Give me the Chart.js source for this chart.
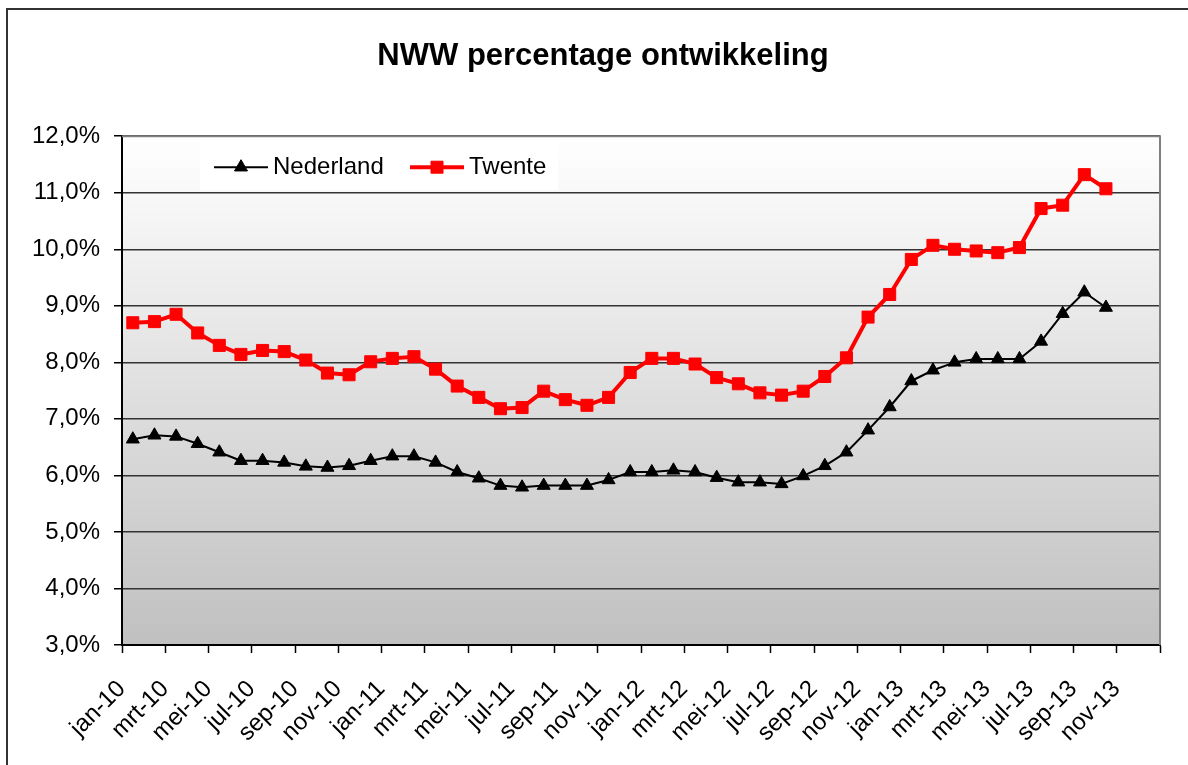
<!DOCTYPE html>
<html>
<head>
<meta charset="utf-8">
<script src="https://cdn.jsdelivr.net/npm/chart.js@4/dist/chart.umd.min.js"></script>
<style>
  html, body { margin: 0; padding: 0; background: #fff; }
  canvas { display: block; }
</style>
</head>
<body>
<canvas id="nwwChart" width="1188" height="765"></canvas>
<script>
const months = ["jan", "feb", "mrt", "apr", "mei", "jun", "jul", "aug", "sep", "okt", "nov", "dec"];
const years = ["10", "11", "12", "13"];
const categories = [];
years.forEach(y => months.forEach(m => categories.push(m + "-" + y)));

// NWW percentages per month, jan-10 .. okt-13
const nederland = [
  6.64, 6.71, 6.69, 6.56, 6.41, 6.26, 6.26, 6.23, 6.16, 6.14, 6.17, 6.26,
  6.34, 6.34, 6.23, 6.06, 5.95, 5.82, 5.79, 5.82, 5.82, 5.82, 5.92, 6.06,
  6.06, 6.09, 6.06, 5.96, 5.88, 5.88, 5.85, 5.99, 6.17, 6.41, 6.80, 7.21,
  7.67, 7.86, 8.00, 8.06, 8.06, 8.06, 8.37, 8.86, 9.24, 8.97
];
const twente = [
  8.70, 8.72, 8.85, 8.52, 8.30, 8.14, 8.21, 8.19, 8.04, 7.81, 7.78, 8.01,
  8.07, 8.10, 7.88, 7.58, 7.38, 7.18, 7.20, 7.49, 7.34, 7.24, 7.38, 7.82,
  8.07, 8.07, 7.97, 7.73, 7.62, 7.46, 7.42, 7.49, 7.75, 8.08, 8.80, 9.20,
  9.82, 10.07, 10.00, 9.97, 9.94, 10.03, 10.72, 10.78, 11.32, 11.07
];

const fontFamily = "'Liberation Sans', Arial, sans-serif";

// page frame, white background and grey gradient in the plot area
const background = {
  id: "background",
  beforeDraw(chart) {
    const ctx = chart.ctx;
    const a = chart.chartArea;
    ctx.save();
    ctx.fillStyle = "#fff";
    ctx.fillRect(0, 0, chart.width, chart.height);
    ctx.strokeStyle = "#333";
    ctx.lineWidth = 2;
    ctx.beginPath();
    ctx.moveTo(7, chart.height);
    ctx.lineTo(7, 9);
    ctx.lineTo(chart.width, 9);
    ctx.stroke();
    const grad = ctx.createLinearGradient(0, a.top, 0, a.bottom);
    grad.addColorStop(0, "#ffffff");
    grad.addColorStop(1, "#c0c0c0");
    ctx.fillStyle = grad;
    ctx.fillRect(a.left, a.top, a.right - a.left, a.bottom - a.top);
    ctx.restore();
  },
  beforeDatasetsDraw(chart) {
    const ctx = chart.ctx;
    const a = chart.chartArea;
    ctx.save();
    ctx.strokeStyle = "#808080";
    ctx.lineWidth = 2;
    ctx.beginPath();
    ctx.moveTo(a.left, a.top);
    ctx.lineTo(a.right, a.top);
    ctx.lineTo(a.right, a.bottom);
    ctx.stroke();
    ctx.restore();
  }
};

// legend box inside the plot area, like the Excel one
const legendBox = {
  id: "legendBox",
  afterDraw(chart) {
    const ctx = chart.ctx;
    const a = chart.chartArea;
    const x0 = a.left + 78;
    const y0 = a.top + 4;
    const cy = y0 + 27;
    ctx.save();
    ctx.fillStyle = "#fff";
    ctx.fillRect(x0, y0, 358, 50);
    const starts = [14, 210];
    chart.data.datasets.forEach((ds, i) => {
      const lx = x0 + starts[i];
      ctx.strokeStyle = ds.borderColor;
      ctx.lineWidth = ds.borderWidth;
      ctx.beginPath();
      ctx.moveTo(lx, cy);
      ctx.lineTo(lx + 54, cy);
      ctx.stroke();
      const mx = lx + 27;
      ctx.fillStyle = ds.pointBackgroundColor;
      ctx.beginPath();
      if (ds.pointStyle === "triangle") {
        const r = ds.pointRadius;
        ctx.moveTo(mx, cy - r);
        ctx.lineTo(mx + r * 0.866, cy + r / 2);
        ctx.lineTo(mx - r * 0.866, cy + r / 2);
        ctx.closePath();
      } else {
        const s = ds.pointRadius * Math.SQRT1_2;
        ctx.rect(mx - s, cy - s, 2 * s, 2 * s);
      }
      ctx.fill();
      ctx.lineWidth = 1;
      ctx.stroke();
      ctx.fillStyle = "#000";
      ctx.font = "24px " + fontFamily;
      ctx.textBaseline = "middle";
      ctx.fillText(ds.label, lx + 59, cy);
    });
    ctx.restore();
  }
};

const chart = new Chart(document.getElementById("nwwChart"), {
  type: "line",
  data: {
    labels: categories,
    datasets: [
      {
        label: "Nederland",
        data: nederland,
        borderColor: "#000",
        borderWidth: 2,
        pointStyle: "triangle",
        pointRadius: 7.5,
        pointBackgroundColor: "#000",
        pointBorderColor: "#000",
        pointBorderWidth: 1,
        borderJoinStyle: "round",
        tension: 0
      },
      {
        label: "Twente",
        data: twente,
        borderColor: "#ff0000",
        borderWidth: 4,
        pointStyle: "rect",
        pointRadius: 8.5,
        pointBackgroundColor: "#ff0000",
        pointBorderColor: "#ff0000",
        pointBorderWidth: 1,
        borderJoinStyle: "round",
        tension: 0
      }
    ]
  },
  options: {
    responsive: false,
    animation: false,
    layout: { padding: { left: 18, right: 0, top: 0, bottom: 0 } },
    plugins: {
      legend: { display: false },
      tooltip: { enabled: false },
      title: {
        display: true,
        text: "NWW percentage ontwikkeling",
        color: "#000",
        font: { family: fontFamily, size: 31, weight: "bold" },
        padding: { top: 38, bottom: 61 }
      }
    },
    scales: {
      x: {
        offset: true,
        grid: {
          offset: true,
          drawOnChartArea: false,
          tickLength: 8,
          tickWidth: 1.5,
          tickColor: c => (c.index === undefined || c.index % 2 === 0) ? "#000" : "rgba(0,0,0,0)"
        },
        border: { color: "#000", width: 2 },
        ticks: {
          autoSkip: false,
          minRotation: 45,
          maxRotation: 45,
          padding: 22,
          labelOffset: -11,
          color: "#000",
          font: { family: fontFamily, size: 24 },
          callback: (v, i) => i % 2 === 0 ? categories[i] : ""
        },
        afterFit: s => {
          s.height = 120;
          s.paddingLeft = 0;
          s.paddingRight = 0;
        }
      },
      y: {
        min: 3,
        max: 12,
        ticks: {
          stepSize: 1,
          padding: 14,
          color: "#000",
          font: { family: fontFamily, size: 24 },
          callback: v => v.toFixed(1).replace(".", ",") + "%"
        },
        grid: { color: "#333", lineWidth: 1.5, tickLength: 8, tickColor: "#000" },
        border: { color: "#000", width: 2 },
        afterFit: s => { s.width = 104; }
      },
      // empty right margin, keeps the plot where Excel put it
      spacer: {
        type: "linear",
        position: "right",
        ticks: { display: false },
        grid: { display: false },
        border: { display: false },
        afterFit: s => { s.width = 28; }
      }
    }
  },
  plugins: [background, legendBox]
});
</script>
</body>
</html>
